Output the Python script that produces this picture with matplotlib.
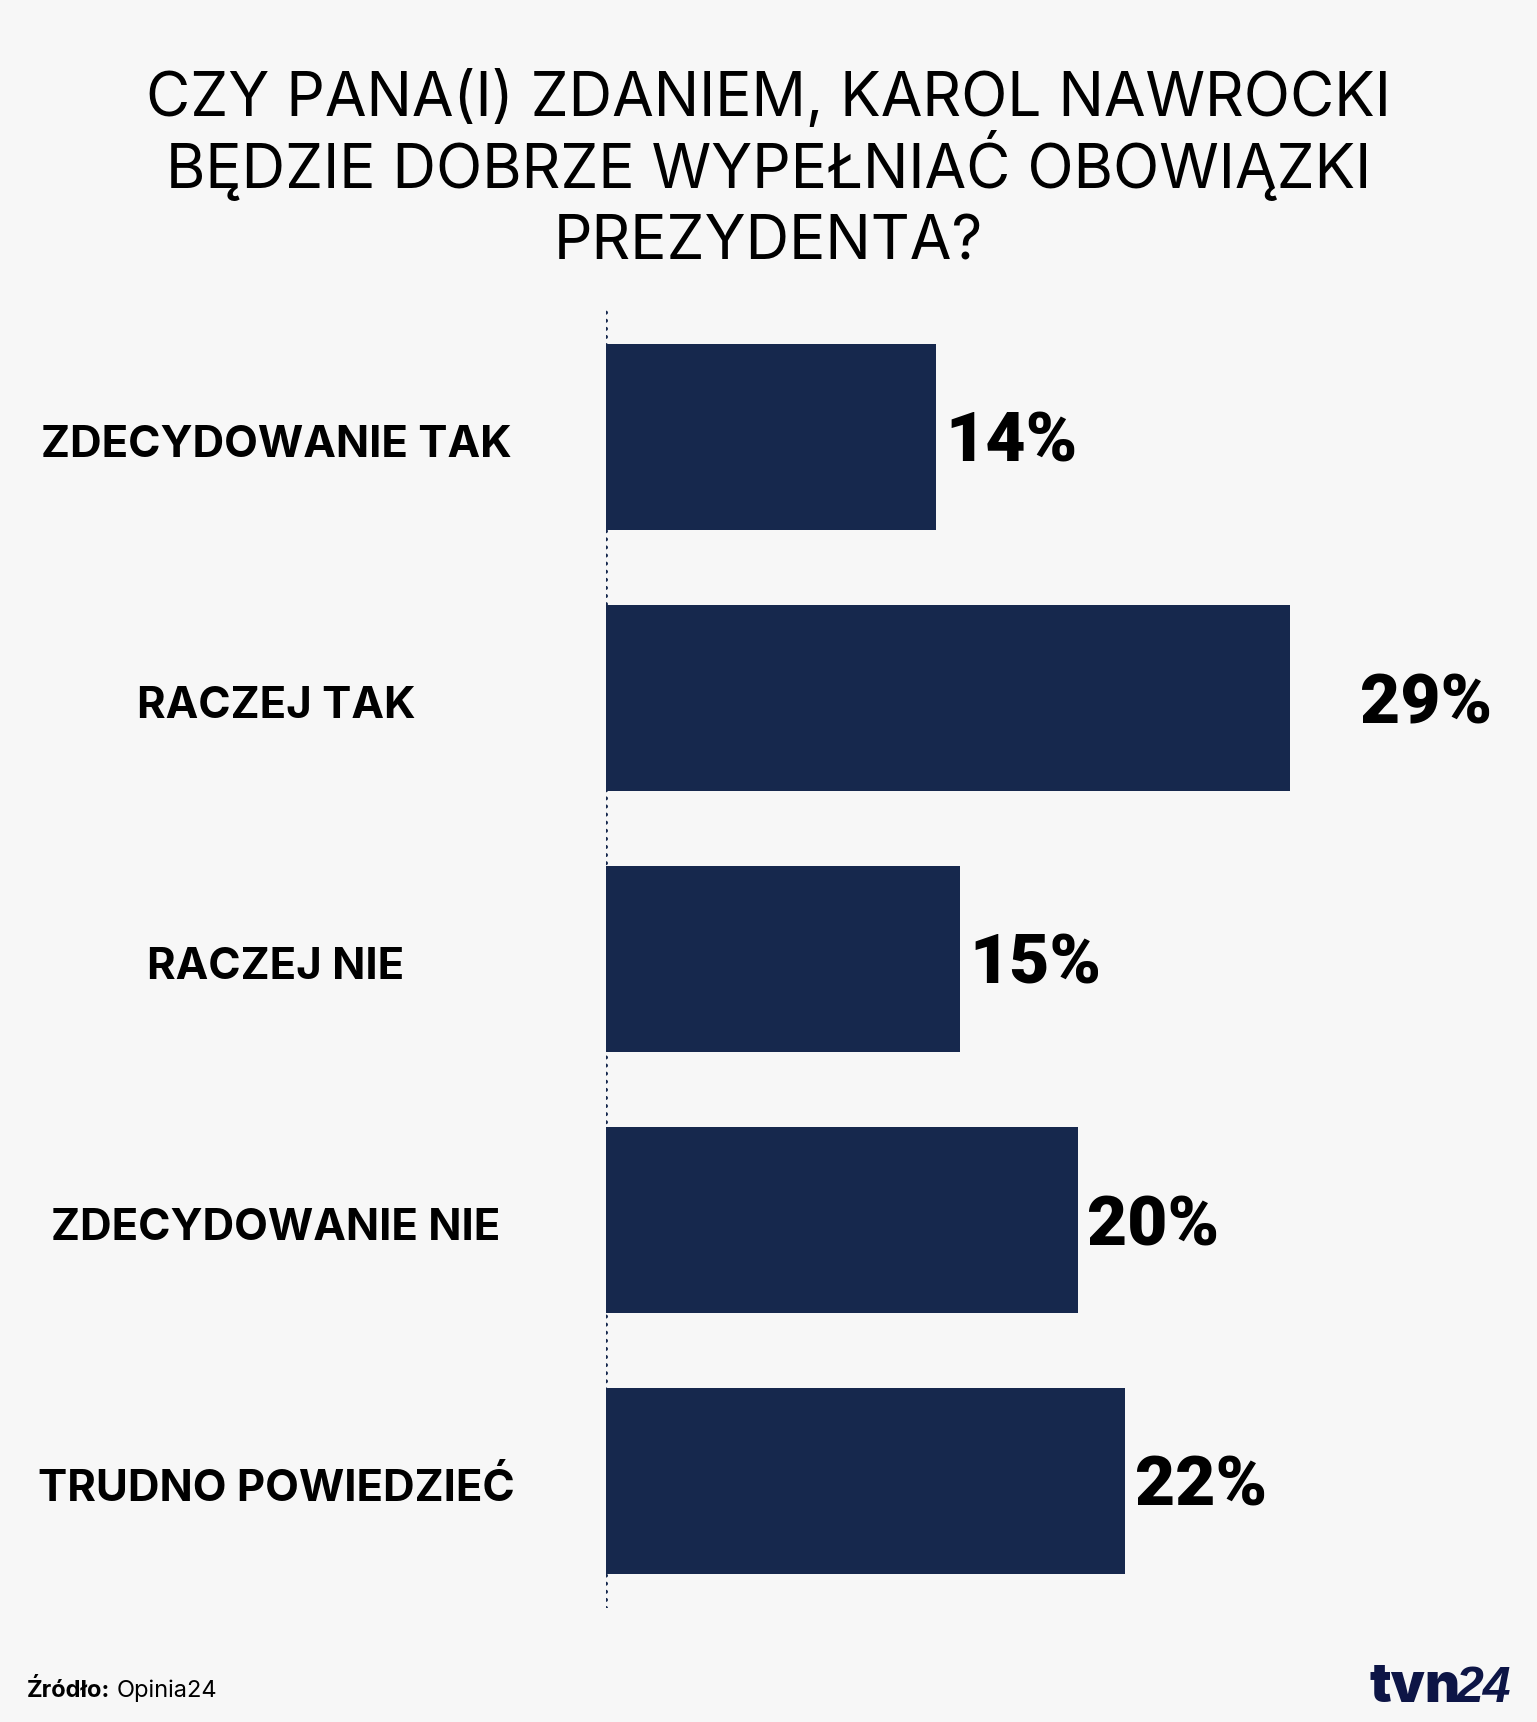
import matplotlib
matplotlib.use("Agg")
import matplotlib.pyplot as plt

categories = ["ZDECYDOWANIE TAK", "RACZEJ TAK", "RACZEJ NIE", "ZDECYDOWANIE NIE", "TRUDNO POWIEDZIEĆ"]
values = [14, 29, 15, 20, 22]
value_labels = ["14%", "29%", "15%", "20%", "22%"]
title_lines = ["CZY PANA(I) ZDANIEM, KAROL NAWROCKI",
               "BĘDZIE DOBRZE WYPEŁNIAĆ OBOWIĄZKI",
               "PREZYDENTA?"]
source_bold = "Źródło:"
source_text = "Opinia24"
logo_a = "tvn"
logo_b = "24"

# style
BG = "#f7f7f7"
BAR = "#16284d"
NAVY = "#0d1546"
label_gap_px = [9, 70, 9, 9, 10]

W, H = 1537, 1722
DPI = 100
fig = plt.figure(figsize=(W / DPI, H / DPI), dpi=DPI, facecolor=BG)

px_per_unit = 23.6
ax_left, ax_right = 606, W
ax_top, ax_bottom = 310, 1608
ax = fig.add_axes([ax_left / W, (H - ax_bottom) / H,
                   (ax_right - ax_left) / W, (ax_bottom - ax_top) / H])
ax.set_facecolor(BG)
ax.set_xlim(0, (ax_right - ax_left) / px_per_unit)
pitch = 261
c0 = 437
ax.set_ylim((ax_bottom - c0) / pitch, -(c0 - ax_top) / pitch)
ax.axis("off")

ypos = list(range(len(categories)))
ax.barh(ypos, values, height=186.6 / pitch, color=BAR, zorder=2)
ax.axvline(0, color=BAR, lw=2.9, linestyle=(0, (0.01, 2.0)),
           dash_capstyle="round", zorder=3)

for i, (v, lab, gap) in enumerate(zip(values, value_labels, label_gap_px)):
    ax.annotate(lab, xy=(v, i), xytext=(gap * 0.72, -25 * 0.72),
                textcoords="offset points", ha="left", va="baseline",
                fontsize=50, fontweight="black", family=["Roboto", "DejaVu Sans"],
                color="black")

for i, cat in enumerate(categories):
    ax.annotate(cat, xy=(276 / W, i), xycoords=("figure fraction", "data"),
                xytext=(0, -20 * 0.72), textcoords="offset points",
                ha="center", va="baseline", fontsize=31.5, fontweight="bold",
                family=["Inter", "DejaVu Sans"], color="black")

baselines = [116, 188, 260]
for line, b in zip(title_lines, baselines):
    fig.text(0.5, (H - b) / H, line, ha="center", va="baseline", fontsize=43.5,
             family=["Inter", "DejaVu Sans"], color="black")

renderer = fig.canvas.get_renderer()
t1 = fig.text(27 / W, (H - 1697) / H, source_bold, ha="left", va="baseline",
              fontsize=17, fontweight="bold", family=["Inter", "DejaVu Sans"])
bb = t1.get_window_extent(renderer)
fig.text((bb.x1 + 6) / W, (H - 1697) / H, source_text, ha="left", va="baseline",
         fontsize=17, family=["Inter", "DejaVu Sans"])

l1 = fig.text(1369 / W, (H - 1702) / H, logo_a, ha="left", va="baseline",
              fontsize=39, fontweight="black", family=["Inter", "DejaVu Sans"],
              color=NAVY)
bb = l1.get_window_extent(renderer)
fig.text((bb.x1 - 4) / W, (H - 1702) / H, logo_b, ha="left", va="baseline",
         fontsize=36, fontweight="bold", fontstyle="italic",
         family=["Liberation Sans", "DejaVu Sans"], color=NAVY)

fig.savefig("out.png", dpi=DPI, facecolor=BG)
